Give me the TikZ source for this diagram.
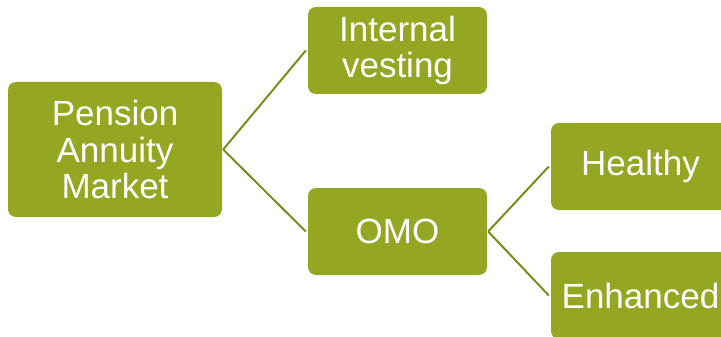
\documentclass[tikz,border=0pt]{standalone}
\usepackage{fontspec}
\setmainfont{Liberation Sans}
\definecolor{boxfill}{RGB}{148,166,34}
\definecolor{linecol}{RGB}{122,140,30}
\begin{document}
\begin{tikzpicture}[x=1pt,y=-1pt,
  gbox/.style={fill=boxfill,draw=none,rounded corners=8pt,inner sep=0pt,
    text=white,align=center,font=\fontsize{35}{36.7}\selectfont,
    minimum width=179pt,minimum height=87pt},
  conn/.style={draw=linecol,line width=2pt}]
\useasboundingbox (0,0) rectangle (721,337);
\clip (0,0) rectangle (721,337);
\node[gbox,minimum width=214pt,minimum height=135pt] (P) at (115,149.5) {Pension\\Annuity\\Market};
\node[gbox] (I) at (397.5,50.5) {Internal\\vesting};
\node[gbox] (O) at (397.5,231.5) {OMO};
\node[gbox] (H) at (640.5,166.5) {Healthy};
\node[gbox] (E) at (640.5,295.5) {Enhanced};
\draw[conn] ([xshift=1pt]P.east) -- ([xshift=-2pt]I.west);
\draw[conn] ([xshift=1pt]P.east) -- ([xshift=-2pt]O.west);
\draw[conn] ([xshift=1pt]O.east) -- ([xshift=-2pt]H.west);
\draw[conn] ([xshift=1pt]O.east) -- ([xshift=-2pt]E.west);
\end{tikzpicture}
\end{document}
